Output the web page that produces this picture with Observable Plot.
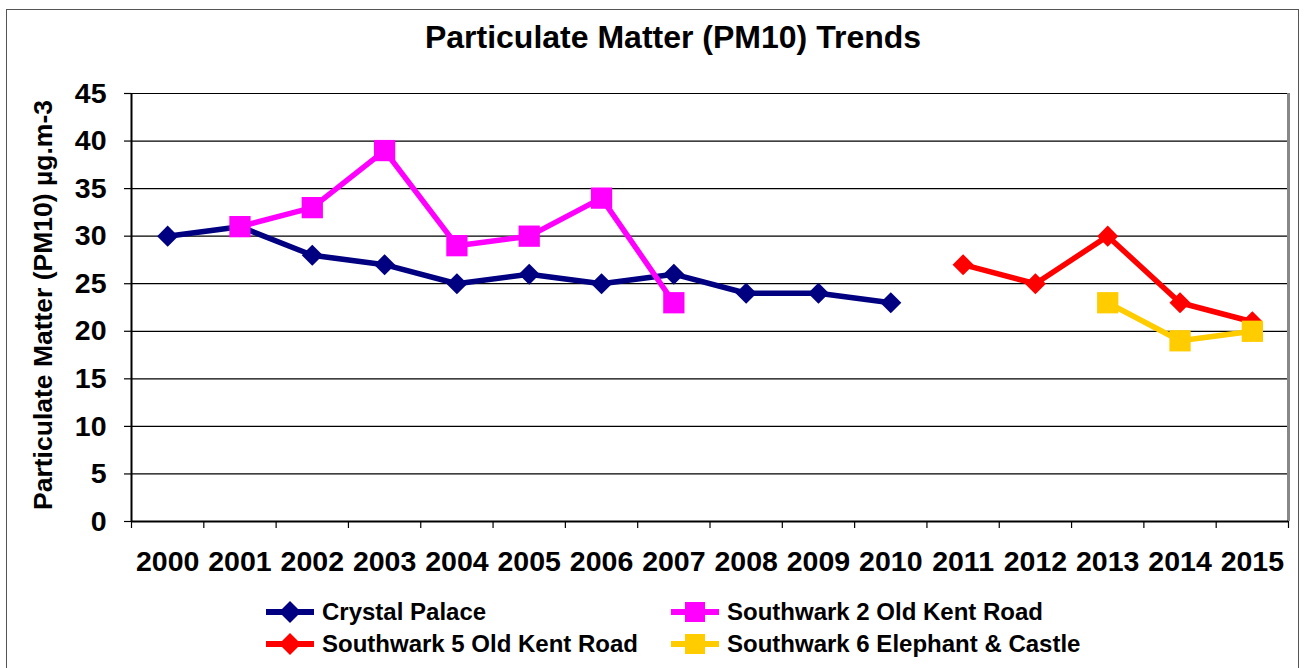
<!DOCTYPE html>
<html><head><meta charset="utf-8">
<script src="https://cdn.jsdelivr.net/npm/d3@7"></script>
<script src="https://cdn.jsdelivr.net/npm/@observablehq/plot@0.6"></script>
<style>
body{margin:0;background:#fff;}
#wrap{position:relative;width:1306px;height:668px;overflow:hidden;font-family:"Liberation Sans",Arial,sans-serif;background:#fff;}
#frame{position:absolute;left:6px;top:9px;width:1293px;height:700px;border:1.5px solid #555;box-sizing:border-box;}
#title{position:absolute;left:0;width:1346px;top:19px;text-align:center;font-weight:bold;font-size:32px;color:#000;}
#ylab{position:absolute;left:43px;top:305px;transform:translate(-50%,-50%) rotate(-90deg);white-space:nowrap;font-weight:bold;font-size:26.5px;color:#000;}
#chart{position:absolute;left:0;top:0;}
.leg{position:absolute;display:flex;align-items:center;font-weight:bold;font-size:24px;color:#000;white-space:nowrap;}
.leg svg{margin-right:8px;}
</style></head>
<body>
<div id="wrap">
  <div id="chart"></div>
  <div id="frame"></div>
  <div id="title">Particulate Matter (PM10) Trends</div>
  <div id="ylab">Particulate Matter (PM10) µg.m-3</div>
  <div id="legend"></div>
</div>
<script>
const yearLabels = [2000,2001,2002,2003,2004,2005,2006,2007,2008,2009,2010,2011,2012,2013,2014,2015];
const yTicks = [0,5,10,15,20,25,30,35,40,45];

const crystalPalaceYears = [2000,2001,2002,2003,2004,2005,2006,2007,2008,2009,2010];
const crystalPalace      = [30,31,28,27,25,26,25,26,24,24,23];
const southwark2Years = [2001,2002,2003,2004,2005,2006,2007];
const southwark2      = [31,33,39,29,30,34,23];
const southwark5Years = [2011,2012,2013,2014,2015];
const southwark5      = [27,25,30,23,21];
const southwark6Years = [2013,2014,2015];
const southwark6      = [23,19,20];

const seriesNames  = ["Crystal Palace","Southwark 2 Old Kent Road","Southwark 5 Old Kent Road","Southwark 6 Elephant & Castle"];
const seriesColors = ["#000080","#FF00FF","#FF0000","#FFCC00"];
const seriesSymbols = ["diamond2","square","diamond2","square"];

const series = [
  {years: crystalPalaceYears, values: crystalPalace},
  {years: southwark2Years, values: southwark2},
  {years: southwark5Years, values: southwark5},
  {years: southwark6Years, values: southwark6}
].map((s,i)=>({name:seriesNames[i], color:seriesColors[i], symbol:seriesSymbols[i],
  data:s.years.map((y,j)=>({year:y, value:s.values[j]}))}));

const boundaries = yearLabels.map(y=>y-0.5).concat([yearLabels[yearLabels.length-1]+0.5]);
const xMin = boundaries[0], xMax = boundaries[boundaries.length-1];

const marks = [
  Plot.gridY(yTicks,{stroke:"#000",strokeOpacity:1,strokeWidth:1.2}),
  Plot.axisY(yTicks,{tickSize:7,tickPadding:18,fontSize:28.5,fontWeight:"bold",label:null,stroke:"#000",strokeWidth:1.2}),
  Plot.ruleX([xMax],{stroke:"#888",strokeWidth:3}),
  Plot.ruleX([xMin],{stroke:"#000",strokeWidth:2}),
  Plot.ruleY([0],{stroke:"#000",strokeWidth:2}),
  Plot.axisX(boundaries,{tickSize:7,tickFormat:()=>"",label:null,strokeWidth:1.2}),
  Plot.axisX(yearLabels,{tickSize:0,tickPadding:29,tickFormat:d=>String(d),fontSize:28.5,fontWeight:"bold",label:null})
];
for (const s of series) {
  marks.push(Plot.line(s.data,{x:"year",y:"value",stroke:s.color,strokeWidth:5.5,strokeLinejoin:"miter"}));
  marks.push(Plot.dot(s.data,{x:"year",y:"value",symbol:s.symbol,fill:s.color,stroke:"none",r:s.symbol==="square"?12:9.5}));
}

const chart = Plot.plot({
  width:1306, height:668,
  marginLeft:131, marginRight:18, marginTop:93, marginBottom:147,
  x:{domain:[xMin,xMax]},
  y:{domain:[0,45]},
  style:{fontFamily:"'Liberation Sans', Arial, sans-serif",color:"#000",background:"transparent",overflow:"visible"},
  marks
});
document.getElementById("chart").appendChild(chart);

// legend
const legend = document.getElementById("legend");
const legPos = [[266,612],[671,612],[266,644],[671,644]];
series.forEach((s,i)=>{
  const d = document.createElement("div");
  d.className="leg";
  d.style.left = legPos[i][0]+"px";
  d.style.top = (legPos[i][1]-15)+"px";
  d.style.height = "30px";
  const sym = s.symbol==="square"
    ? `<rect x="14" y="4" width="20" height="20" fill="${s.color}"/>`
    : `<path d="M24 3 L35 14 L24 25 L13 14 Z" fill="${s.color}"/>`;
  d.innerHTML = `<svg width="48" height="28" viewBox="0 0 48 28"><line x1="0" x2="48" y1="14" y2="14" stroke="${s.color}" stroke-width="6"/>${sym}</svg><span>${s.name}</span>`;
  legend.appendChild(d);
});
</script>
</body></html>
